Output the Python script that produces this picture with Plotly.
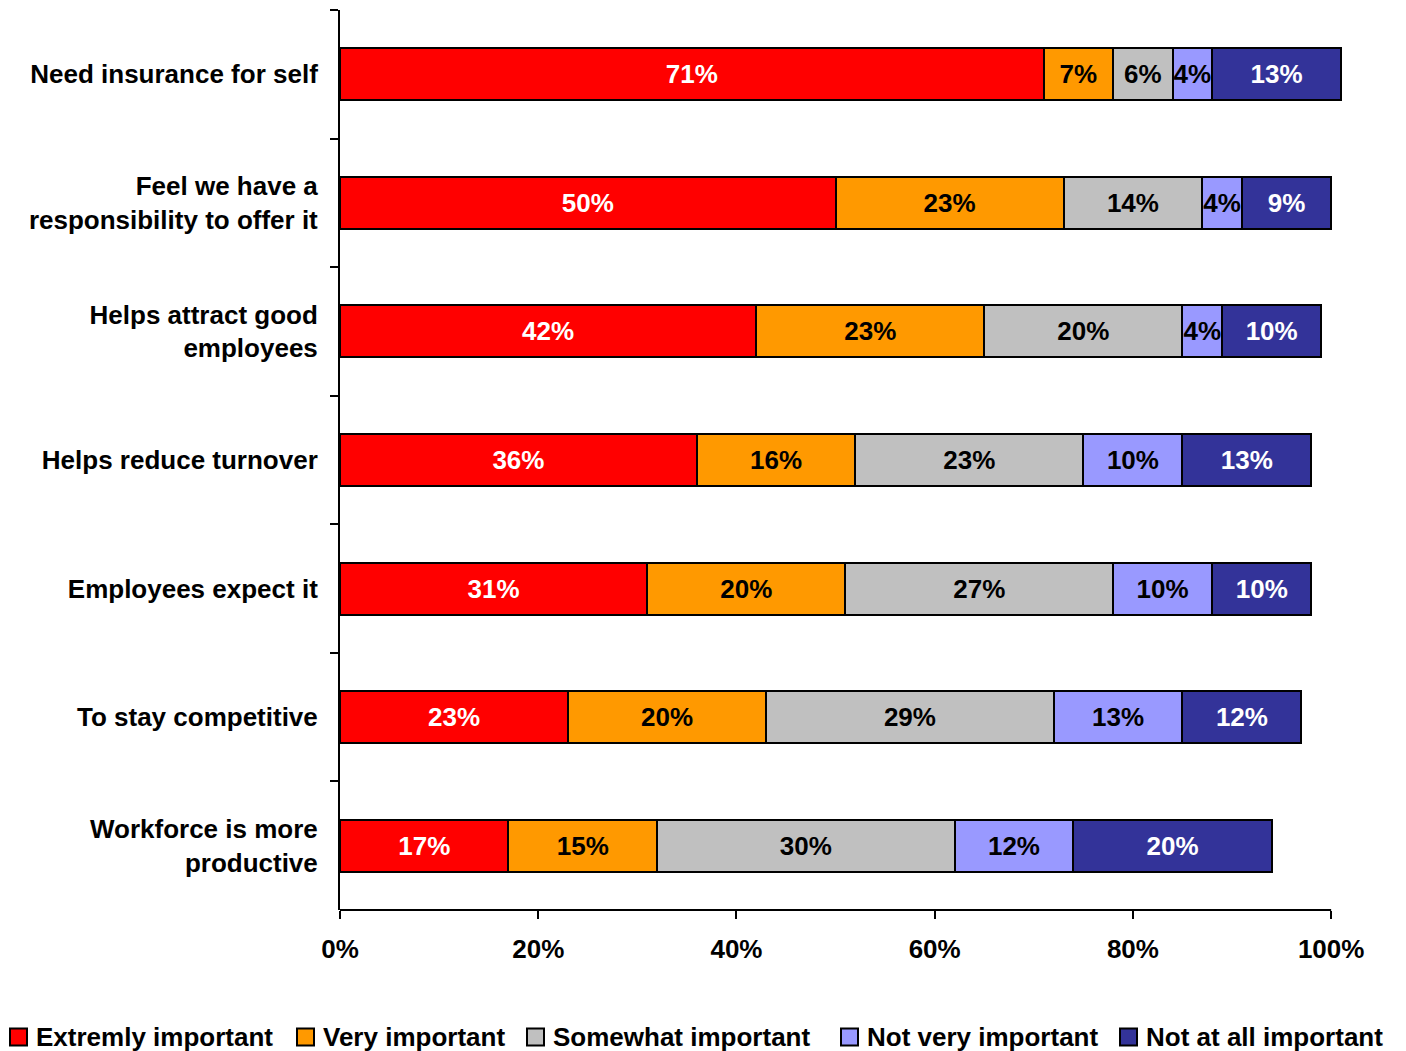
import plotly.graph_objects as go

categories = [
    "Need insurance for self",
    "Feel we have a<br>responsibility to offer it",
    "Helps attract good<br>employees",
    "Helps reduce turnover",
    "Employees expect it",
    "To stay competitive",
    "Workforce is more<br>productive",
]
series_names = ["Extremly important", "Very important", "Somewhat important",
                "Not very important", "Not at all important"]
extremely = [71, 50, 42, 36, 31, 23, 17]
very = [7, 23, 23, 16, 20, 20, 15]
somewhat = [6, 14, 20, 23, 27, 29, 30]
not_very = [4, 4, 4, 10, 10, 13, 12]
not_at_all = [13, 9, 10, 13, 10, 12, 20]
x_ticks = [0, 20, 40, 60, 80, 100]
x_tick_labels = ["0%", "20%", "40%", "60%", "80%", "100%"]

values = [extremely, very, somewhat, not_very, not_at_all]
colors = ["#FF0000", "#FF9900", "#C0C0C0", "#9999FF", "#333399"]
text_colors = ["white", "black", "black", "black", "white"]

FONT = "Liberation Sans, Arial, sans-serif"
FS = 26
OFF = 8  # page body margin in the browser
W, H = 1406 - OFF, 1051 - OFF
ML, MR, MT, MB = 340 - OFF, 60, 10 - OFF, 141
PW, PH = W - ML - MR, H - MT - MB

fig = go.Figure()
for name, vals, col, tc in zip(series_names, values, colors, text_colors):
    fig.add_trace(go.Bar(
        y=categories, x=vals, name=name, orientation="h",
        marker=dict(color=col, line=dict(color="black", width=2)),
        text=[f"{v}%" for v in vals], textposition="inside",
        insidetextanchor="middle", textangle=0,
        textfont=dict(color=tc, size=FS, family=FONT, weight="bold"),
        constraintext="none", showlegend=False,
    ))

# manual legend (one row, as in the original); positions in window pixels
legend_sq_left = [10, 297, 527, 841, 1120]
legend_cy = 1037
shapes = [dict(type="line", xref="x", yref="paper", x0=-0.9, x1=100, y0=0, y1=0,
               line=dict(color="black", width=2))]
annotations = []
def px2x(px):
    return (px - OFF - ML) / PW
def py2y(py):
    return (H - MB - (py - OFF)) / PH
for name, col, sx in zip(series_names, colors, legend_sq_left):
    shapes.append(dict(type="rect", xref="paper", yref="paper",
                       x0=px2x(sx), x1=px2x(sx + 17),
                       y0=py2y(legend_cy + 8.5), y1=py2y(legend_cy - 8.5),
                       fillcolor=col, line=dict(color="black", width=2)))
    annotations.append(dict(xref="paper", yref="paper", x=px2x(sx + 24), y=py2y(legend_cy),
                            xanchor="left", yanchor="middle", showarrow=False,
                            text=name,
                            font=dict(size=FS, family=FONT, weight="bold", color="black")))

fig.update_layout(
    barmode="stack", bargap=0.595,
    width=W, height=H,
    margin=dict(l=ML, r=MR, t=MT, b=MB, autoexpand=False),
    plot_bgcolor="white", paper_bgcolor="white",
    font=dict(family=FONT, size=FS, color="black", weight="bold"),
    uniformtext=dict(minsize=FS, mode="show"),
    showlegend=False,
    xaxis=dict(range=[0, 101.5], tickvals=x_ticks, ticktext=x_tick_labels,
               ticks="outside", ticklen=8, tickwidth=2, tickcolor="black",
               showline=False, showgrid=False, zeroline=False, automargin=False,
               ticklabelstandoff=8,
               tickfont=dict(size=FS, family=FONT, weight="bold")),
    yaxis=dict(autorange="reversed", showline=True, linewidth=2, linecolor="black",
               ticks="outside", ticklen=8, tickwidth=2, tickcolor="black",
               tickson="boundaries", showgrid=False, ticklabelstandoff=15,
               automargin=False,
               tickfont=dict(size=FS, family=FONT, weight="bold")),
    shapes=shapes,
    annotations=annotations,
)

fig.write_html("out.html")
